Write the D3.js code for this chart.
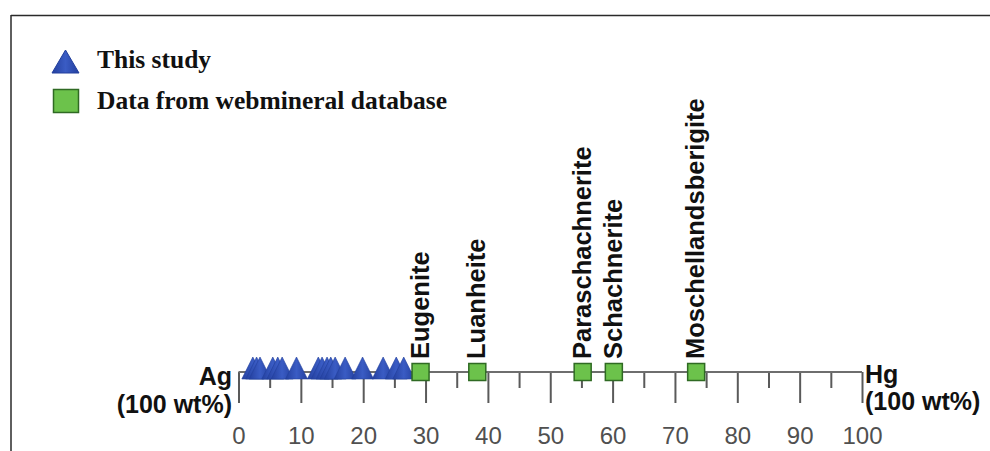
<!DOCTYPE html>
<html>
<head>
<meta charset="utf-8">
<script src="https://cdn.jsdelivr.net/npm/d3@7"></script>
<style>
  html, body { margin: 0; padding: 0; background: #fff; }
  svg { display: block; }
</style>
</head>
<body>
<svg id="chart" width="990" height="451"></svg>
<script>
// ---- data ----
const thisStudyHg = [2.3, 2.9, 3.45, 5.5, 6.3, 7.0, 9.3, 12.8, 13.4, 14.2, 14.8, 15.5, 17.1, 19.9, 23.2, 25.3, 26.5];
const mineralNames = ["Eugenite", "Luanheite", "Paraschachnerite", "Schachnerite", "Moschellandsberigite"];
const mineralHg = [29.2, 38.3, 55.2, 60.2, 73.4];
const majorTicks = [0, 10, 20, 30, 40, 50, 60, 70, 80, 90, 100];
const minorTicks = [5, 15, 25, 35, 45, 55, 65, 75, 85, 95];
const legendLabels = ["This study", "Data from webmineral database"];
const leftEndLabels = ["Ag", "(100 wt%)"];
const rightEndLabels = ["Hg", "(100 wt%)"];

// ---- layout ----
const svg = d3.select("#chart");
const axisY = 372;
const x = d3.scaleLinear().domain([0, 100]).range([238.5, 862]);

const triStroke = "#223f9c";
const sqFill = "#6cc24b", sqStroke = "#2f6a23";
const sansFont = "'Liberation Sans', Arial, sans-serif";
const serifFont = "'Liberation Serif', 'Times New Roman', serif";

const defs = svg.append("defs");
const grad = defs.append("linearGradient").attr("id", "triGrad")
  .attr("x1", "0").attr("y1", "0").attr("x2", "1").attr("y2", "0");
grad.append("stop").attr("offset", "0%").attr("stop-color", "#24409f");
grad.append("stop").attr("offset", "50%").attr("stop-color", "#3a5cc4");
grad.append("stop").attr("offset", "100%").attr("stop-color", "#24409f");
const triFill = "url(#triGrad)";

// frame
svg.append("line").attr("x1", 11).attr("x2", 990).attr("y1", 15.5).attr("y2", 15.5)
  .attr("stroke", "#2a2a2a").attr("stroke-width", 1.5);
svg.append("line").attr("x1", 11).attr("x2", 11).attr("y1", 15).attr("y2", 451)
  .attr("stroke", "#2a2a2a").attr("stroke-width", 1.5);

// legend
const legG = svg.append("g");
legG.append("path")
  .attr("d", "M65.5,50 L79,73 L52,73 Z")
  .attr("fill", triFill).attr("stroke", triStroke).attr("stroke-width", 1);
legG.append("rect").attr("x", 53.5).attr("y", 89.5).attr("width", 25).attr("height", 23)
  .attr("fill", sqFill).attr("stroke", sqStroke).attr("stroke-width", 1.5);
legG.selectAll("text").data(legendLabels).join("text")
  .attr("x", 97).attr("y", (d, i) => i === 0 ? 68 : 109)
  .attr("font-family", serifFont).attr("font-weight", "bold").attr("font-size", 25.5)
  .attr("fill", "#111").text(d => d);

// axis: minor ticks
const minorAxis = d3.axisBottom(x).tickValues(minorTicks).tickSize(16).tickFormat("");
const gMinor = svg.append("g").attr("transform", `translate(0,${axisY})`).call(minorAxis);
gMinor.select(".domain").remove();
gMinor.selectAll(".tick line").attr("stroke", "#5a5a5a").attr("stroke-width", 2);

// axis: major ticks + labels
const majorAxis = d3.axisBottom(x).tickValues(majorTicks).tickSize(31).tickPadding(24).tickFormat(d3.format("d"));
const gMajor = svg.append("g").attr("transform", `translate(0,${axisY})`).call(majorAxis);
gMajor.select(".domain").remove();
gMajor.selectAll(".tick line").attr("stroke", "#5a5a5a").attr("stroke-width", 2);
gMajor.selectAll(".tick text")
  .attr("font-family", sansFont).attr("font-size", 24).attr("fill", "#505050");

// main axis line
svg.append("line").attr("x1", x(0)).attr("x2", x(100)).attr("y1", axisY).attr("y2", axisY)
  .attr("stroke", "#6e6e6e").attr("stroke-width", 2);

// end labels
svg.append("g").selectAll("text").data(leftEndLabels).join("text")
  .attr("x", 232).attr("y", (d, i) => i === 0 ? 385 : 413)
  .attr("text-anchor", "end")
  .attr("font-family", sansFont).attr("font-weight", "bold").attr("font-size", 25)
  .attr("fill", "#111").text(d => d);
svg.append("g").selectAll("text").data(rightEndLabels).join("text")
  .attr("x", 865).attr("y", (d, i) => i === 0 ? 383 : 410)
  .attr("text-anchor", "start")
  .attr("font-family", sansFont).attr("font-weight", "bold").attr("font-size", 25)
  .attr("fill", "#111").text(d => d);

// triangles (this study)
const triW = 22, triTop = 15, triBot = 7;
svg.append("g").selectAll("path").data(thisStudyHg).join("path")
  .attr("d", d => {
    const cx = x(d);
    return `M${cx},${axisY - triTop} L${cx + triW / 2},${axisY + triBot} L${cx - triW / 2},${axisY + triBot} Z`;
  })
  .attr("fill", triFill).attr("stroke", triStroke).attr("stroke-width", 0.6)
  .attr("stroke-linejoin", "round");

// squares (webmineral)
const sq = 17;
const mineralData = mineralNames.map((n, i) => ({ name: n, hg: mineralHg[i] }));
svg.append("g").selectAll("rect").data(mineralData).join("rect")
  .attr("x", d => x(d.hg) - sq / 2).attr("y", axisY - sq / 2)
  .attr("width", sq).attr("height", sq)
  .attr("fill", sqFill).attr("stroke", sqStroke).attr("stroke-width", 1.5);

// mineral labels (rotated)
svg.append("g").selectAll("text").data(mineralData).join("text")
  .attr("transform", d => `translate(${x(d.hg) + 8},${axisY - 13}) rotate(-90)`)
  .attr("text-anchor", "start")
  .attr("font-family", sansFont).attr("font-weight", "bold").attr("font-size", 25.5)
  .attr("fill", "#111").text(d => d.name);
</script>
</body>
</html>
